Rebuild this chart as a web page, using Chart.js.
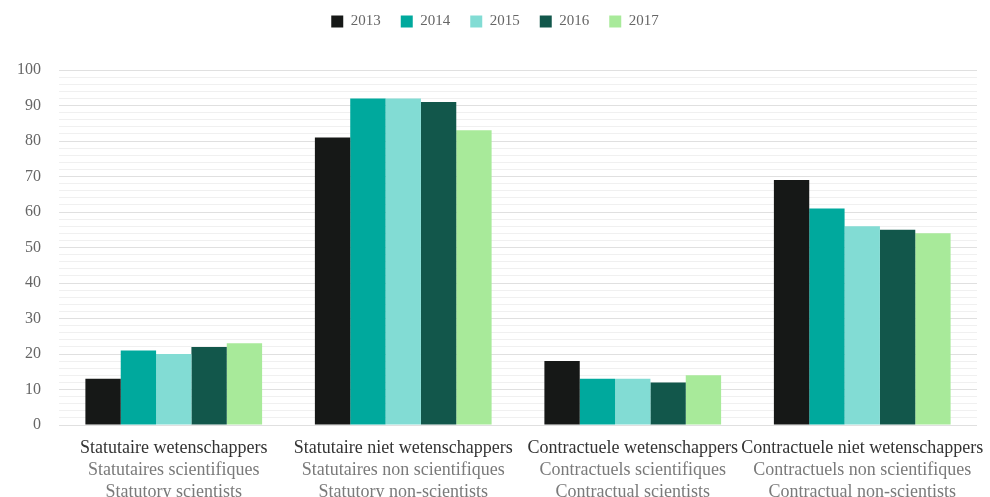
<!DOCTYPE html>
<html>
<head>
<meta charset="utf-8">
<script src="https://cdn.jsdelivr.net/npm/chart.js@4/dist/chart.umd.min.js"></script>
<style>
  html, body { margin: 0; padding: 0; background: #fff; }
  #wrap { width: 990px; height: 497px; }
</style>
</head>
<body>
<div id="wrap"><canvas id="chart" width="990" height="497"></canvas></div>
<script>
// Staff categories (Dutch / French / English)
const categories = [
  ['Statutaire wetenschappers', 'Statutaires scientifiques', 'Statutory scientists'],
  ['Statutaire niet wetenschappers', 'Statutaires non scientifiques', 'Statutory non-scientists'],
  ['Contractuele wetenschappers', 'Contractuels scientifiques', 'Contractual scientists'],
  ['Contractuele niet wetenschappers', 'Contractuels non scientifiques', 'Contractual non-scientists']
];
const years = ['2013', '2014', '2015', '2016', '2017'];
const values2013 = [13, 81, 18, 69];
const values2014 = [21, 92, 13, 61];
const values2015 = [20, 92, 13, 56];
const values2016 = [22, 91, 12, 55];
const values2017 = [23, 83, 14, 54];
const yearColors = ['#161817', '#00a99d', '#82dcd4', '#12574b', '#a8ea9a'];

const seriesValues = [values2013, values2014, values2015, values2016, values2017];
const FONT = "'Liberation Serif', 'DejaVu Serif', serif";

// Leaves a fixed gap between the legend row and the plot area,
// and centres the legend row on the whole canvas
const legendSpacing = {
  id: 'legendSpacing',
  beforeInit(chart) {
    const legend = chart.legend;
    const fit = legend.fit;
    legend.fit = function () {
      fit.call(this);
      this.height = 76;
    };
  },
  afterLayout(chart) {
    chart.legend.left += 7;
    chart.legend.right += 7;
  }
};

// Draws the three-line trilingual category labels under the x axis
const categoryLabels = {
  id: 'categoryLabels',
  afterDraw(chart) {
    const { ctx, scales } = chart;
    const x = scales.x;
    const base = chart.chartArea.bottom;
    ctx.save();
    ctx.textAlign = 'center';
    ctx.textBaseline = 'middle';
    categories.forEach((lines, i) => {
      const cx = x.getPixelForValue(i);
      lines.forEach((line, j) => {
        ctx.font = '18px ' + FONT;
        ctx.fillStyle = j === 0 ? '#333333' : '#7a7a7a';
        ctx.fillText(line, cx, base + 23 + j * 22);
      });
    });
    ctx.restore();
  }
};

new Chart(document.getElementById('chart'), {
  type: 'bar',
  data: {
    labels: categories.map(c => c[0]),
    datasets: years.map((y, i) => ({
      label: y,
      data: seriesValues[i],
      backgroundColor: yearColors[i],
      borderWidth: 0,
      categoryPercentage: 0.77,
      barPercentage: 1.0
    }))
  },
  options: {
    responsive: false,
    animation: false,
    devicePixelRatio: 1,
    layout: { padding: { left: -1, right: 13, top: -6, bottom: 64 } },
    plugins: {
      legend: {
        position: 'top',
        labels: {
          boxWidth: 12,
          boxHeight: 12,
          padding: 20,
          color: '#666666',
          font: { family: FONT, size: 15 }
        }
      },
      tooltip: { enabled: false }
    },
    scales: {
      x: {
        ticks: { display: false },
        grid: { display: false },
        border: { display: false }
      },
      y: {
        min: 0,
        max: 100,
        ticks: {
          stepSize: 2,
          autoSkip: false,
          padding: 18,
          color: '#666666',
          font: { family: FONT, size: 16 },
          callback: v => (v % 10 === 0 ? String(v) : '')
        },
        grid: {
          drawTicks: false,
          lineWidth: 1,
          color: ctx => (ctx.tick && ctx.tick.value % 10 === 0 ? '#e0e0e0' : '#f0f0f0')
        },
        border: { display: false }
      }
    }
  },
  plugins: [legendSpacing, categoryLabels]
});
</script>
</body>
</html>
